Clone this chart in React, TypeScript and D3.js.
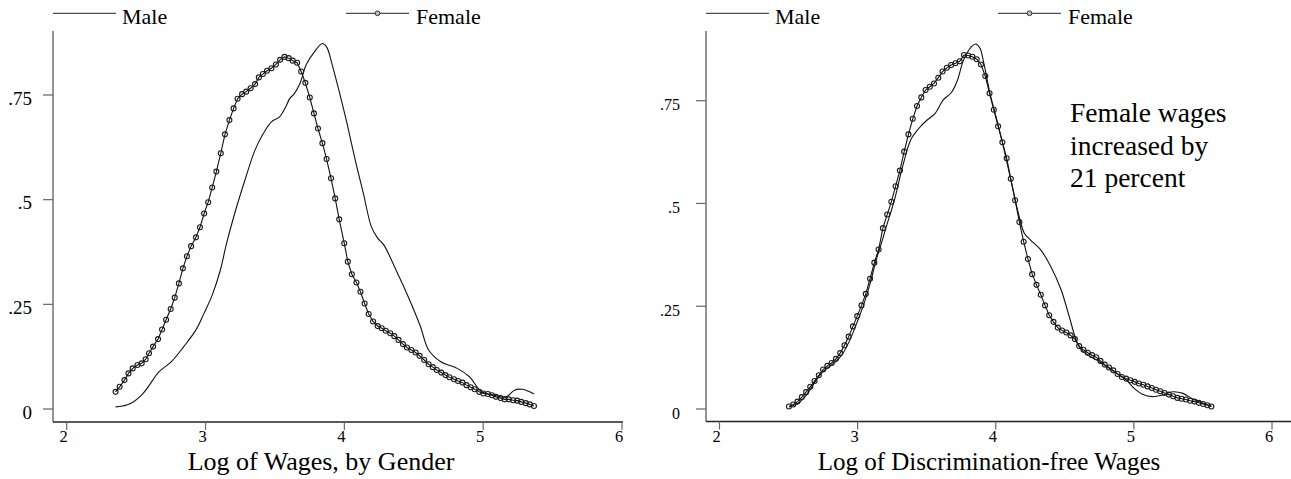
import React from 'react';
import * as d3 from 'd3';

// kernel density estimates: [log wage, density]
const maleLeft: [number, number][] = [
  [2.352, 0.005], [2.40, 0.007], [2.46, 0.013], [2.549, 0.037], [2.666, 0.089], [2.754, 0.113],
  [2.843, 0.149], [2.931, 0.189], [2.99, 0.229], [3.048, 0.272], [3.107, 0.332], [3.151, 0.395],
  [3.21, 0.467], [3.284, 0.547], [3.357, 0.619], [3.416, 0.658], [3.475, 0.686], [3.534, 0.698],
  [3.578, 0.722], [3.607, 0.742], [3.637, 0.752], [3.681, 0.778], [3.725, 0.822], [3.784, 0.853],
  [3.842, 0.873], [3.872, 0.865], [3.916, 0.818], [3.96, 0.762], [4.019, 0.682], [4.078, 0.595],
  [4.137, 0.515], [4.195, 0.435], [4.24, 0.408], [4.284, 0.392], [4.372, 0.332], [4.46, 0.268],
  [4.548, 0.197], [4.607, 0.141], [4.695, 0.113], [4.813, 0.097], [4.901, 0.077], [4.989, 0.041],
  [5.078, 0.033], [5.166, 0.029], [5.225, 0.045], [5.283, 0.047], [5.366, 0.036],
];

const femaleLeft: [number, number][] = [
  [2.352, 0.041], [2.381, 0.053], [2.416, 0.069], [2.445, 0.085], [2.475, 0.097], [2.51, 0.105],
  [2.54, 0.109], [2.569, 0.119], [2.593, 0.133], [2.622, 0.149], [2.658, 0.167], [2.687, 0.19],
  [2.716, 0.213], [2.749, 0.239], [2.778, 0.266], [2.808, 0.3], [2.837, 0.336], [2.866, 0.365],
  [2.896, 0.389], [2.931, 0.41], [2.96, 0.434], [2.99, 0.467], [3.019, 0.494], [3.048, 0.529],
  [3.078, 0.567], [3.11, 0.611], [3.14, 0.656], [3.172, 0.69], [3.202, 0.718], [3.231, 0.741],
  [3.263, 0.752], [3.293, 0.758], [3.325, 0.766], [3.357, 0.776], [3.384, 0.792], [3.413, 0.8],
  [3.443, 0.808], [3.475, 0.814], [3.507, 0.823], [3.537, 0.834], [3.569, 0.841], [3.599, 0.838],
  [3.628, 0.832], [3.66, 0.827], [3.689, 0.806], [3.719, 0.779], [3.751, 0.744], [3.781, 0.706],
  [3.81, 0.67], [3.842, 0.635], [3.872, 0.597], [3.904, 0.551], [3.934, 0.503], [3.963, 0.453],
  [3.999, 0.396], [4.025, 0.352], [4.054, 0.322], [4.087, 0.302], [4.116, 0.28], [4.146, 0.252],
  [4.175, 0.227], [4.207, 0.209], [4.24, 0.198], [4.269, 0.193], [4.298, 0.187], [4.331, 0.181],
  [4.36, 0.174], [4.39, 0.165], [4.422, 0.155], [4.451, 0.147], [4.483, 0.141], [4.513, 0.135],
  [4.542, 0.127], [4.575, 0.117], [4.607, 0.107], [4.637, 0.1], [4.666, 0.093], [4.698, 0.087],
  [4.728, 0.081], [4.757, 0.076], [4.79, 0.071], [4.819, 0.067], [4.851, 0.063], [4.88, 0.057],
  [4.91, 0.052], [4.939, 0.047], [4.972, 0.041], [5.001, 0.037], [5.034, 0.036], [5.063, 0.033],
  [5.092, 0.029], [5.125, 0.026], [5.154, 0.023], [5.184, 0.023], [5.216, 0.021], [5.245, 0.02],
  [5.274, 0.017], [5.307, 0.014], [5.336, 0.011], [5.366, 0.007],
];

const maleRight: [number, number][] = [
  [2.503, 0.005], [2.56, 0.012], [2.62, 0.03], [2.738, 0.087], [2.826, 0.111], [2.885, 0.131],
  [2.944, 0.168], [3.003, 0.217], [3.047, 0.257], [3.091, 0.306], [3.135, 0.363], [3.179, 0.411],
  [3.208, 0.444], [3.267, 0.509], [3.326, 0.59], [3.385, 0.655], [3.444, 0.683], [3.503, 0.703],
  [3.561, 0.719], [3.62, 0.752], [3.679, 0.77], [3.723, 0.8], [3.767, 0.849], [3.826, 0.882],
  [3.855, 0.888], [3.885, 0.878], [3.914, 0.841], [3.958, 0.768], [4.002, 0.711], [4.061, 0.63],
  [4.12, 0.541], [4.164, 0.476], [4.208, 0.427], [4.252, 0.411], [4.326, 0.387], [4.399, 0.346],
  [4.473, 0.29], [4.532, 0.225], [4.591, 0.16], [4.635, 0.139], [4.738, 0.118], [4.855, 0.091],
  [4.944, 0.071], [5.002, 0.05], [5.061, 0.036], [5.135, 0.03], [5.208, 0.034], [5.282, 0.042],
  [5.355, 0.038], [5.429, 0.024], [5.502, 0.014], [5.561, 0.007],
];

const femaleRight: [number, number][] = [
  [2.503, 0.006], [2.534, 0.011], [2.565, 0.018], [2.596, 0.029], [2.627, 0.041], [2.657, 0.054],
  [2.688, 0.068], [2.719, 0.082], [2.75, 0.096], [2.781, 0.105], [2.812, 0.112], [2.843, 0.122],
  [2.874, 0.136], [2.905, 0.155], [2.935, 0.176], [2.966, 0.201], [2.997, 0.226], [3.028, 0.252],
  [3.059, 0.28], [3.09, 0.317], [3.121, 0.356], [3.152, 0.388], [3.183, 0.44], [3.214, 0.473],
  [3.244, 0.504], [3.275, 0.542], [3.306, 0.58], [3.337, 0.626], [3.368, 0.668], [3.399, 0.706],
  [3.43, 0.737], [3.461, 0.758], [3.492, 0.776], [3.522, 0.784], [3.553, 0.792], [3.584, 0.806],
  [3.615, 0.821], [3.646, 0.83], [3.677, 0.837], [3.708, 0.841], [3.739, 0.846], [3.77, 0.861],
  [3.8, 0.86], [3.831, 0.857], [3.862, 0.851], [3.893, 0.838], [3.924, 0.81], [3.955, 0.768],
  [3.986, 0.728], [4.017, 0.688], [4.048, 0.649], [4.079, 0.61], [4.109, 0.56], [4.14, 0.508],
  [4.171, 0.455], [4.202, 0.407], [4.233, 0.365], [4.264, 0.328], [4.295, 0.302], [4.326, 0.278],
  [4.357, 0.252], [4.387, 0.228], [4.418, 0.212], [4.449, 0.198], [4.48, 0.191], [4.511, 0.186],
  [4.542, 0.179], [4.573, 0.17], [4.604, 0.153], [4.635, 0.144], [4.666, 0.137], [4.697, 0.131],
  [4.727, 0.126], [4.758, 0.117], [4.789, 0.108], [4.82, 0.101], [4.851, 0.094], [4.882, 0.085],
  [4.913, 0.078], [4.944, 0.074], [4.975, 0.07], [5.006, 0.066], [5.037, 0.062], [5.068, 0.059],
  [5.099, 0.055], [5.13, 0.051], [5.16, 0.047], [5.191, 0.043], [5.222, 0.039], [5.253, 0.035],
  [5.284, 0.031], [5.315, 0.027], [5.346, 0.025], [5.377, 0.023], [5.408, 0.02], [5.439, 0.018],
  [5.47, 0.015], [5.501, 0.012], [5.532, 0.009], [5.561, 0.006],
];

const xTicks = [2, 3, 4, 5, 6];
const yTicks = [0, 0.25, 0.5, 0.75];
const yTickLabels = ['0', '.25', '.5', '.75'];
const seriesNames = ['Male', 'Female'];
const titles = ['Log of Wages, by Gender', 'Log of Discrimination-free Wages'];
const note = ['Female wages', 'increased by', '21 percent'];

const FONT = '"Liberation Serif", "Times New Roman", serif';

type Pt = [number, number];

interface PanelCfg {
  xRange: [number, number];
  yRange: [number, number];
  axisX: number;
  axisTop: number;
  axisBottom: number;
  axisRight: number;
  yLabelX: number;
  yLabelSize: number;
  titleX: number;
  titleSize: number;
  legend: { male: number; female: number };
}

const leftCfg: PanelCfg = {
  xRange: [66.7, 622],
  yRange: [409, 95],
  axisX: 53,
  axisTop: 31,
  axisBottom: 422,
  axisRight: 623,
  yLabelX: 32,
  yLabelSize: 19,
  titleX: 321,
  titleSize: 26,
  legend: { male: 53, female: 346 },
};

const rightCfg: PanelCfg = {
  xRange: [719.5, 1272],
  yRange: [409, 100.7],
  axisX: 706,
  axisTop: 31,
  axisBottom: 421.5,
  axisRight: 1291,
  yLabelX: 680,
  yLabelSize: 16,
  titleX: 989,
  titleSize: 25,
  legend: { male: 706, female: 998 },
};

const Panel = ({ cfg, male, female, title }: { cfg: PanelCfg; male: Pt[]; female: Pt[]; title: string }) => {
  const x = d3.scaleLinear().domain([2, 6]).range(cfg.xRange);
  const y = d3.scaleLinear().domain([0, 0.75]).range(cfg.yRange);

  const maleLine = d3.line<Pt>()
    .x(d => x(d[0]))
    .y(d => y(d[1]))
    .curve(d3.curveCatmullRom.alpha(0.5));
  const femaleLine = d3.line<Pt>()
    .x(d => x(d[0]))
    .y(d => y(d[1]));

  const legY = 13.3;
  const legLen = 63;

  return (
    <g fontFamily={FONT}>
      {/* legend */}
      <line x1={cfg.legend.male} x2={cfg.legend.male + legLen} y1={legY} y2={legY} stroke="#222" strokeWidth={1} />
      <text x={cfg.legend.male + legLen + 6} y={23.5} fontSize={22}>{seriesNames[0]}</text>
      <line x1={cfg.legend.female} x2={cfg.legend.female + legLen} y1={legY} y2={legY} stroke="#222" strokeWidth={1} />
      <circle cx={cfg.legend.female + legLen / 2} cy={legY} r={2.4} fill="#bbb" stroke="#222" strokeWidth={0.9} />
      <text x={cfg.legend.female + legLen + 7} y={23.5} fontSize={22}>{seriesNames[1]}</text>

      {/* y axis */}
      <line x1={cfg.axisX} x2={cfg.axisX} y1={cfg.axisTop} y2={cfg.axisBottom} stroke="#666" strokeWidth={1.4} />
      {yTicks.map((t, i) => (
        <g key={t}>
          <line x1={cfg.axisX - 10} x2={cfg.axisX} y1={y(t)} y2={y(t)} stroke="#666" strokeWidth={1.2} />
          <text x={cfg.yLabelX} y={y(t) + 9.5} fontSize={cfg.yLabelSize} textAnchor="end">{yTickLabels[i]}</text>
        </g>
      ))}

      {/* x axis */}
      <line x1={cfg.axisX} x2={cfg.axisRight} y1={cfg.axisBottom} y2={cfg.axisBottom} stroke="#222" strokeWidth={1.4} />
      {xTicks.map(t => (
        <g key={t}>
          <line x1={x(t)} x2={x(t)} y1={cfg.axisBottom} y2={cfg.axisBottom + 8} stroke="#666" strokeWidth={1.2} />
          <text x={x(t) - 3} y={442} fontSize={16.5} textAnchor="middle">{t}</text>
        </g>
      ))}
      <text x={cfg.titleX} y={470} fontSize={cfg.titleSize} textAnchor="middle">{title}</text>

      {/* curves */}
      <path d={maleLine(male) ?? ''} fill="none" stroke="#111" strokeWidth={1.1} />
      <path d={femaleLine(female) ?? ''} fill="none" stroke="#111" strokeWidth={1.1} />
      {female.map((d, i) => (
        <circle key={i} cx={x(d[0])} cy={y(d[1])} r={2.5} fill="none" stroke="#1a1a1a" strokeWidth={1.1} />
      ))}
    </g>
  );
};

const App = () => (
  <svg width={1291} height={479} style={{ position: 'absolute', left: 0, top: 0, background: '#fff' }}>
    <Panel cfg={leftCfg} male={maleLeft} female={femaleLeft} title={titles[0]} />
    <Panel cfg={rightCfg} male={maleRight} female={femaleRight} title={titles[1]} />
    <g fontFamily={FONT} fontSize={27.5}>
      {note.map((s, i) => (
        <text key={s} x={1070} y={122 + i * 32.7}>{s}</text>
      ))}
    </g>
  </svg>
);

export default App;
